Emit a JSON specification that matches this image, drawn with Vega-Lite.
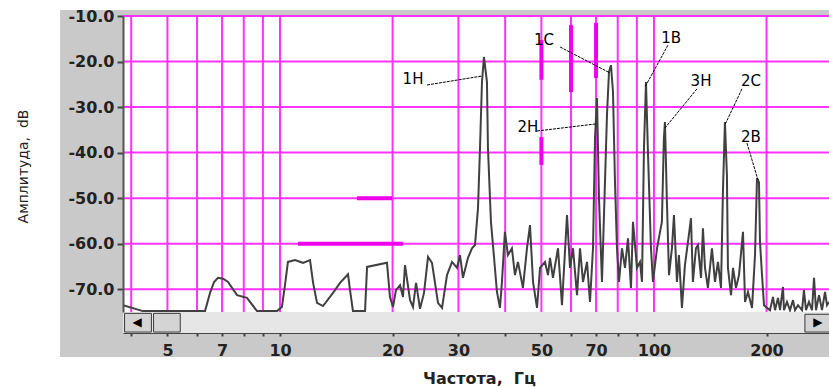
{
  "$schema": "https://vega.github.io/schema/vega-lite/v6.json",
  "width": 706,
  "height": 296,
  "autosize": {"type": "none"},
  "padding": {"left": 123, "top": 16, "right": 0, "bottom": 75},
  "background": "white",
  "config": {"view": {"stroke": null}},
  "datasets": {
    "frame": [{"f": 2.581, "f2": 400, "db": -84.88, "db2": -8.68}],
    "plot": [{"f": 3.803, "f2": 293.8, "db": -75, "db2": -10}],
    "grid": [
      {"f": 4, "f2": 4, "db": -75, "db2": -10},
      {"f": 5, "f2": 5, "db": -75, "db2": -10},
      {"f": 6, "f2": 6, "db": -75, "db2": -10},
      {"f": 7, "f2": 7, "db": -75, "db2": -10},
      {"f": 8, "f2": 8, "db": -75, "db2": -10},
      {"f": 9, "f2": 9, "db": -75, "db2": -10},
      {"f": 10, "f2": 10, "db": -75, "db2": -10},
      {"f": 20, "f2": 20, "db": -75, "db2": -10},
      {"f": 30, "f2": 30, "db": -75, "db2": -10},
      {"f": 40, "f2": 40, "db": -75, "db2": -10},
      {"f": 50, "f2": 50, "db": -75, "db2": -10},
      {"f": 60, "f2": 60, "db": -75, "db2": -10},
      {"f": 70, "f2": 70, "db": -75, "db2": -10},
      {"f": 80, "f2": 80, "db": -75, "db2": -10},
      {"f": 90, "f2": 90, "db": -75, "db2": -10},
      {"f": 100, "f2": 100, "db": -75, "db2": -10},
      {"f": 200, "f2": 200, "db": -75, "db2": -10},
      {"f": 3.803, "f2": 293.8, "db": -10, "db2": -10},
      {"f": 3.803, "f2": 293.8, "db": -20, "db2": -20},
      {"f": 3.803, "f2": 293.8, "db": -30, "db2": -30},
      {"f": 3.803, "f2": 293.8, "db": -40, "db2": -40},
      {"f": 3.803, "f2": 293.8, "db": -50, "db2": -50},
      {"f": 3.803, "f2": 293.8, "db": -60, "db2": -60},
      {"f": 3.803, "f2": 293.8, "db": -70, "db2": -70}
    ],
    "thick": [
      {"f": 16.07, "f2": 19.93, "db": -50, "db2": -50},
      {"f": 11.17, "f2": 21.32, "db": -60, "db2": -60},
      {"f": 50, "f2": 50, "db": -15.3, "db2": -24.0},
      {"f": 50, "f2": 50, "db": -36.6, "db2": -42.7},
      {"f": 60, "f2": 60, "db": -12.0, "db2": -26.7},
      {"f": 70, "f2": 70, "db": -11.5, "db2": -23.6}
    ],
    "spectrum": [
      {"f": 3.803, "db": -73.5}, {"f": 4.302, "db": -74.8}, {"f": 6.302, "db": -74.8}, {"f": 6.5, "db": -70.8},
      {"f": 6.662, "db": -68.4}, {"f": 6.826, "db": -67.5}, {"f": 7.05, "db": -67.7}, {"f": 7.26, "db": -68.4},
      {"f": 7.674, "db": -71.3}, {"f": 8.16, "db": -71.9}, {"f": 8.68, "db": -74.8}, {"f": 9.817, "db": -74.8},
      {"f": 10.12, "db": -73.9}, {"f": 10.31, "db": -69.1}, {"f": 10.5, "db": -64.0}, {"f": 10.97, "db": -63.6},
      {"f": 11.52, "db": -64.2}, {"f": 12.03, "db": -63.6}, {"f": 12.26, "db": -68.6}, {"f": 12.56, "db": -73.0},
      {"f": 13.03, "db": -73.7}, {"f": 13.86, "db": -70.8}, {"f": 14.47, "db": -68.6}, {"f": 15.2, "db": -66.7},
      {"f": 15.39, "db": -70.2}, {"f": 15.67, "db": -74.8}, {"f": 16.88, "db": -74.8}, {"f": 17.09, "db": -65.1},
      {"f": 19.32, "db": -64.2}, {"f": 19.68, "db": -71.7}, {"f": 20.05, "db": -73.9}, {"f": 20.42, "db": -70.2},
      {"f": 20.94, "db": -69.1}, {"f": 21.32, "db": -71.7}, {"f": 21.59, "db": -64.7}, {"f": 22.27, "db": -72.4},
      {"f": 22.68, "db": -73.9}, {"f": 23.11, "db": -68.6}, {"f": 23.68, "db": -74.3}, {"f": 24.27, "db": -70.8},
      {"f": 24.88, "db": -62.9}, {"f": 25.49, "db": -64.2}, {"f": 25.97, "db": -68.6}, {"f": 26.45, "db": -73.0},
      {"f": 27.12, "db": -74.1}, {"f": 27.96, "db": -66.9}, {"f": 28.84, "db": -64.0}, {"f": 29.74, "db": -65.3},
      {"f": 30.29, "db": -62.5}, {"f": 30.85, "db": -67.5}, {"f": 31.82, "db": -63.1}, {"f": 32.61, "db": -61.0},
      {"f": 33.22, "db": -60.3}, {"f": 33.84, "db": -52.2}, {"f": 34.26, "db": -39.0}, {"f": 34.68, "db": -24.5},
      {"f": 35.11, "db": -19.0}, {"f": 35.76, "db": -24.5}, {"f": 35.98, "db": -39.0}, {"f": 36.65, "db": -55.2},
      {"f": 37.11, "db": -60.3}, {"f": 38.03, "db": -70.6}, {"f": 38.74, "db": -74.1}, {"f": 39.22, "db": -68.4},
      {"f": 39.94, "db": -57.4}, {"f": 40.69, "db": -62.5}, {"f": 41.7, "db": -61.0}, {"f": 42.48, "db": -66.9},
      {"f": 43.28, "db": -64.0}, {"f": 44.63, "db": -69.7}, {"f": 45.75, "db": -61.0}, {"f": 46.61, "db": -55.9},
      {"f": 47.49, "db": -68.4}, {"f": 48.67, "db": -74.1}, {"f": 49.58, "db": -65.3}, {"f": 51.12, "db": -64.0},
      {"f": 52.07, "db": -66.9}, {"f": 52.72, "db": -63.1}, {"f": 53.69, "db": -67.5}, {"f": 55.38, "db": -61.0},
      {"f": 56.76, "db": -73.5}, {"f": 58.54, "db": -53.7}, {"f": 59.63, "db": -65.3}, {"f": 60.74, "db": -61.0},
      {"f": 62.26, "db": -71.3}, {"f": 63.42, "db": -61.0}, {"f": 64.6, "db": -68.4}, {"f": 66.21, "db": -64.0},
      {"f": 67.44, "db": -72.8}, {"f": 68.7, "db": -61.0}, {"f": 69.55, "db": -36.8}, {"f": 70.41, "db": -28.0},
      {"f": 71.28, "db": -50.0}, {"f": 72.61, "db": -68.4}, {"f": 73.51, "db": -53.7}, {"f": 74.88, "db": -31.7},
      {"f": 75.81, "db": -22.3}, {"f": 76.74, "db": -20.8}, {"f": 77.7, "db": -26.7}, {"f": 78.66, "db": -46.5},
      {"f": 79.63, "db": -61.0}, {"f": 80.62, "db": -68.4}, {"f": 82.12, "db": -61.0}, {"f": 83.66, "db": -65.3},
      {"f": 85.21, "db": -58.8}, {"f": 86.8, "db": -69.7}, {"f": 87.88, "db": -55.2}, {"f": 90.07, "db": -65.3},
      {"f": 91.75, "db": -64.0}, {"f": 92.89, "db": -68.4}, {"f": 94.03, "db": -39.0}, {"f": 95.2, "db": -24.5},
      {"f": 96.37, "db": -39.9}, {"f": 98.17, "db": -61.0}, {"f": 99.39, "db": -68.4}, {"f": 101.9, "db": -61.0},
      {"f": 103.8, "db": -57.4}, {"f": 105.0, "db": -55.2}, {"f": 106.3, "db": -36.8}, {"f": 107.0, "db": -33.3},
      {"f": 108.3, "db": -50.8}, {"f": 109.7, "db": -66.9}, {"f": 111.7, "db": -61.0}, {"f": 113.1, "db": -53.7},
      {"f": 115.2, "db": -68.4}, {"f": 116.6, "db": -62.5}, {"f": 118.8, "db": -74.1}, {"f": 121.0, "db": -64.7},
      {"f": 123.3, "db": -59.6}, {"f": 125.6, "db": -54.4}, {"f": 127.1, "db": -68.4}, {"f": 129.5, "db": -61.0},
      {"f": 131.1, "db": -60.3}, {"f": 133.6, "db": -67.5}, {"f": 135.2, "db": -56.6}, {"f": 136.9, "db": -65.3},
      {"f": 139.4, "db": -69.7}, {"f": 142.9, "db": -61.0}, {"f": 145.6, "db": -68.4}, {"f": 148.3, "db": -64.0},
      {"f": 151.1, "db": -69.7}, {"f": 152.9, "db": -48.6}, {"f": 154.8, "db": -33.3}, {"f": 156.7, "db": -44.9},
      {"f": 157.7, "db": -65.3}, {"f": 160.7, "db": -71.3}, {"f": 162.7, "db": -65.3}, {"f": 165.7, "db": -69.7},
      {"f": 168.8, "db": -66.9}, {"f": 173.0, "db": -57.4}, {"f": 175.2, "db": -72.8}, {"f": 178.4, "db": -70.6},
      {"f": 182.9, "db": -74.1}, {"f": 186.3, "db": -62.5}, {"f": 188.6, "db": -45.6}, {"f": 190.9, "db": -46.5},
      {"f": 192.1, "db": -59.6}, {"f": 194.5, "db": -66.9}, {"f": 196.9, "db": -73.5}, {"f": 200.6, "db": -74.1},
      {"f": 204.3, "db": -74.6}, {"f": 208.1, "db": -71.7}, {"f": 210.7, "db": -74.6}, {"f": 214.6, "db": -71.9},
      {"f": 217.3, "db": -74.6}, {"f": 221.3, "db": -69.5}, {"f": 222.7, "db": -74.6}, {"f": 226.8, "db": -72.8},
      {"f": 231.1, "db": -74.6}, {"f": 235.4, "db": -72.4}, {"f": 238.3, "db": -74.6}, {"f": 242.7, "db": -73.5},
      {"f": 248.9, "db": -74.6}, {"f": 251.8, "db": -70.2}, {"f": 255.0, "db": -74.6}, {"f": 259.7, "db": -72.8},
      {"f": 264.6, "db": -74.6}, {"f": 267.9, "db": -67.5}, {"f": 271.2, "db": -74.6}, {"f": 276.3, "db": -71.3},
      {"f": 281.4, "db": -74.6}, {"f": 286.7, "db": -70.6}, {"f": 290.2, "db": -73.5}, {"f": 293.8, "db": -72.8}
    ],
    "leaders": [
      {"f": 24.72, "db": -25.15, "f2": 34.68, "db2": -23.18},
      {"f": 56.08, "db": -16.8, "f2": 76.27, "db2": -22.5},
      {"f": 48.67, "db": -35.25, "f2": 69.98, "db2": -33.7},
      {"f": 109.0, "db": -16.4, "f2": 94.6, "db2": -25.6},
      {"f": 130.3, "db": -26.0, "f2": 107.0, "db2": -34.6},
      {"f": 171.9, "db": -26.0, "f2": 154.8, "db2": -33.9},
      {"f": 177.3, "db": -37.9, "f2": 189.7, "db2": -46.0}
    ],
    "labels": [
      {"f": 22.68, "db": -23.8, "label": "1Н"},
      {"f": 50.8, "db": -15.3, "label": "1С"},
      {"f": 46.03, "db": -34.4, "label": "2Н"},
      {"f": 111.1, "db": -14.8, "label": "1В"},
      {"f": 133.6, "db": -24.3, "label": "3Н"},
      {"f": 181.7, "db": -24.3, "label": "2С"},
      {"f": 181.7, "db": -36.6, "label": "2В"}
    ],
    "track": [{"f": 3.803, "f2": 400, "db": -75, "db2": -79.61}],
    "buttons": [
      {"f": 3.84, "f2": 4.53, "db": -75.3, "db2": -79.4},
      {"f": 4.59, "f2": 5.41, "db": -75.3, "db2": -79.4},
      {"f": 253.3, "f2": 400, "db": -75.5, "db2": -79.4}
    ],
    "arrows": [
      {"f": 4.15, "db": -77.3, "label": "◀"},
      {"f": 274.5, "db": -77.3, "label": "▶"}
    ]
  },
  "encoding": {
    "x": {
      "field": "f",
      "type": "quantitative",
      "scale": {"type": "log", "domain": [3.803, 293.8], "nice": false},
      "axis": {
        "title": "Частота,\u00a0\u00a0Гц",
        "values": [4, 5, 6, 7, 8, 9, 10, 20, 30, 40, 50, 60, 70, 80, 90, 100, 200],
        "labelExpr": "indexof([5,7,10,20,30,50,70,100,200], datum.value) >= 0 ? format(datum.value, 'd') : ''",
        "grid": false,
        "offset": 21,
        "zindex": 1,
        "domainColor": "#444",
        "domainWidth": 1,
        "tickColor": "#444",
        "tickSize": 3,
        "tickWidth": 2,
        "labelFont": "DejaVu Sans",
        "labelFontWeight": "bold",
        "labelFontSize": 16,
        "labelColor": "#222",
        "labelPadding": 6,
        "labelFlush": false,
        "labelOverlap": false,
        "titleFont": "DejaVu Sans",
        "titleFontWeight": "bold",
        "titleFontSize": 16,
        "titleColor": "#222",
        "titleX": 356,
        "titleY": 50,
        "titleBaseline": "alphabetic"
      }
    },
    "y": {
      "field": "db",
      "type": "quantitative",
      "scale": {"domain": [-75, -10], "nice": false, "zero": false},
      "axis": {
        "title": "Амплитуда,\u00a0\u00a0dB",
        "values": [-10, -20, -30, -40, -50, -60, -70],
        "labelExpr": "'-' + format(abs(datum.value), '.1f')",
        "grid": false,
        "zindex": 1,
        "domainColor": "#555",
        "domainWidth": 2,
        "tickColor": "#444",
        "tickSize": 6,
        "tickWidth": 2,
        "labelFont": "DejaVu Sans",
        "labelFontWeight": "bold",
        "labelFontSize": 16,
        "labelColor": "#222",
        "labelPadding": 3,
        "labelFlush": false,
        "labelOverlap": false,
        "titleFont": "DejaVu Sans",
        "titleFontWeight": "normal",
        "titleFontSize": 14,
        "titleColor": "#222",
        "titleX": -93,
        "titleY": 150
      }
    }
  },
  "layer": [
    {"data": {"name": "frame"}, "mark": {"type": "rect", "fill": "#c9c9c9", "clip": false},
     "encoding": {"x2": {"field": "f2"}, "y2": {"field": "db2"}}},
    {"data": {"name": "plot"}, "mark": {"type": "rect", "fill": "#ffffff", "clip": false},
     "encoding": {"x2": {"field": "f2"}, "y2": {"field": "db2"}}},
    {"data": {"name": "grid"}, "mark": {"type": "rule", "stroke": "#ff33ff", "strokeWidth": 2},
     "encoding": {"x2": {"field": "f2"}, "y2": {"field": "db2"}}},
    {"data": {"name": "thick"}, "mark": {"type": "rule", "stroke": "#ee00ee", "strokeWidth": 4},
     "encoding": {"x2": {"field": "f2"}, "y2": {"field": "db2"}}},
    {"data": {"name": "spectrum"}, "mark": {"type": "line", "stroke": "#404040", "strokeWidth": 2, "clip": true},
     "encoding": {}},
    {"data": {"name": "leaders"}, "mark": {"type": "rule", "stroke": "#000000", "strokeWidth": 1, "strokeDash": [3, 1]},
     "encoding": {"x2": {"field": "f2"}, "y2": {"field": "db2"}}},
    {"data": {"name": "labels"}, "mark": {"type": "text", "font": "DejaVu Sans", "fontSize": 15, "color": "#000000", "align": "center", "baseline": "middle"},
     "encoding": {"text": {"field": "label"}}},
    {"data": {"name": "track"}, "mark": {"type": "rect", "fill": "#e6e6e6", "clip": false},
     "encoding": {"x2": {"field": "f2"}, "y2": {"field": "db2"}}},
    {"data": {"name": "buttons"}, "mark": {"type": "rect", "fill": "#d4d4d4", "stroke": "#3a3a3a", "strokeWidth": 1, "clip": false},
     "encoding": {"x2": {"field": "f2"}, "y2": {"field": "db2"}}},
    {"data": {"name": "arrows"}, "mark": {"type": "text", "font": "DejaVu Sans", "fontSize": 12, "color": "#000000", "align": "center", "baseline": "middle", "clip": false},
     "encoding": {"text": {"field": "label"}}}
  ]
}
